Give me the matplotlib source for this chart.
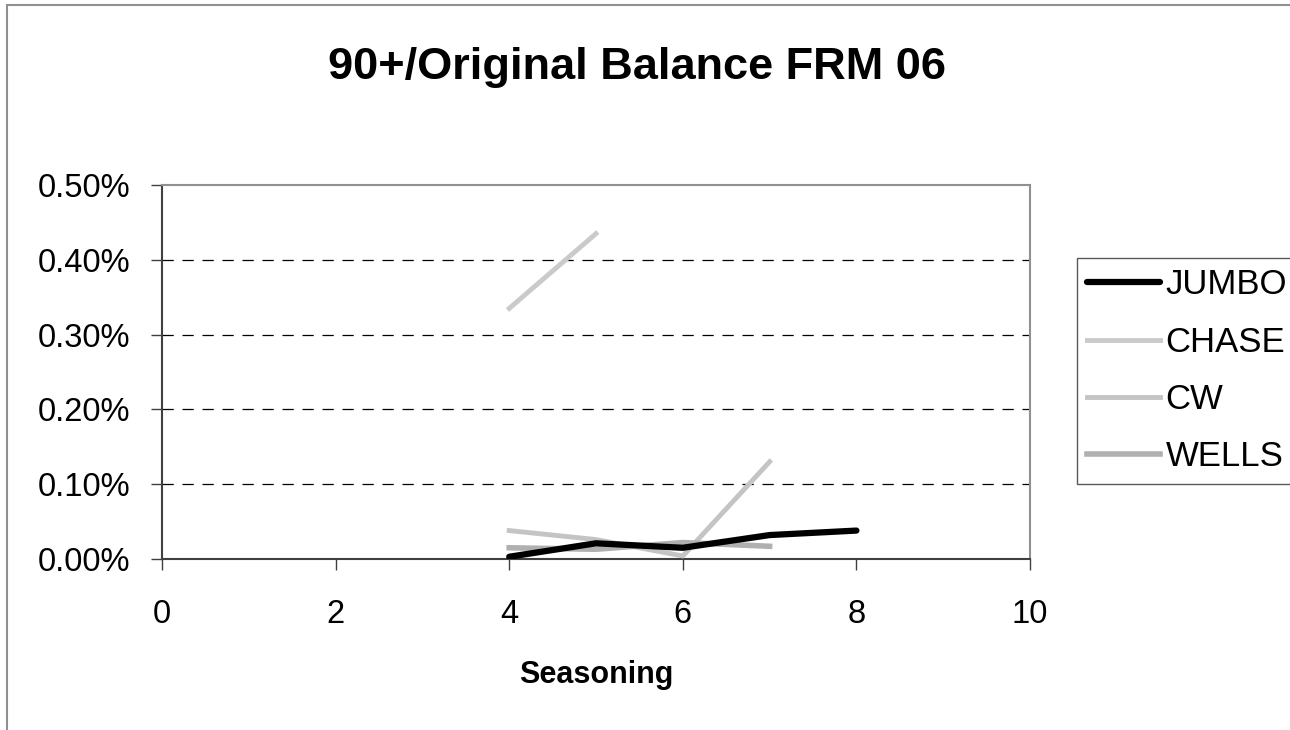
#! /usr/bin/env python3
# 90+ day delinquency over original balance, FRM 06 vintage, by seasoning

import matplotlib
matplotlib.use("Agg")
import matplotlib.pyplot as plt
from matplotlib.patches import Rectangle
from matplotlib.ticker import FuncFormatter, MultipleLocator

plt.rcParams['font.family'] = ['Liberation Sans', 'DejaVu Sans']

# Seasoning (months) and delinquency ratios in percent
jumbo_x = [4, 5, 6, 7, 8]
jumbo_y = [0.003, 0.021, 0.015, 0.032, 0.038]

chase_x = [4, 5]
chase_y = [0.335, 0.435]

cw_x = [4, 5, 6, 7]
cw_y = [0.038, 0.026, 0.004, 0.130]

wells_x = [4, 5, 6, 7]
wells_y = [0.015, 0.013, 0.022, 0.017]

fig = plt.figure(figsize=(12.9, 7.3), dpi=100)

# outer chart frame (only left and top edges fall inside the image)
fig.patches.append(Rectangle((7/1290, -0.1), 1.2, 1.1 - 5/730, transform=fig.transFigure,
                             fill=False, edgecolor='#909090', linewidth=1.5))

ax = fig.add_axes([162/1290, 1 - 559/730, 868/1290, 374/730])

ax.plot(jumbo_x, jumbo_y, color='black', linewidth=4.5, solid_capstyle='round', label='JUMBO', zorder=4)
ax.plot(chase_x, chase_y, color='#cacaca', linewidth=3.5, label='CHASE', zorder=3)
ax.plot(cw_x, cw_y, color='#c4c4c4', linewidth=3.5, label='CW', zorder=3)
ax.plot(wells_x, wells_y, color='#b0b0b0', linewidth=4, label='WELLS', zorder=3)

ax.set_xlim(0, 10)
ax.set_ylim(0, 0.5)
ax.xaxis.set_major_locator(MultipleLocator(2))
ax.yaxis.set_major_locator(MultipleLocator(0.1))
ax.yaxis.set_major_formatter(FuncFormatter(lambda v, p: '%.2f%%' % v))

for v in [0.1, 0.2, 0.3, 0.4]:
    ax.axhline(v, color='black', linewidth=0.9, dashes=(9, 7), zorder=1)

for s in ['top', 'right']:
    ax.spines[s].set_color('#909090')
    ax.spines[s].set_linewidth(1.5)
for s in ['left', 'bottom']:
    ax.spines[s].set_color('#404040')
    ax.spines[s].set_linewidth(1.5)

ax.tick_params(axis='both', direction='out', length=8, width=1, color='#404040',
               labelsize=23.5)
ax.tick_params(axis='x', pad=20.5)
ax.tick_params(axis='y', pad=15)

ax.set_xlabel('Seasoning', fontsize=22, fontweight='bold', labelpad=22)
fig.text(0.494, 1 - 68/730, '90+/Original Balance FRM 06', fontsize=32.5,
         fontweight='bold', ha='center', va='center')

leg = fig.legend(loc='upper left', bbox_to_anchor=(1077/1290, 1 - 258/730),
                 fontsize=25, frameon=True, fancybox=False, handlelength=2.1,
                 handletextpad=0.15, labelspacing=0.7, borderaxespad=0,
                 borderpad=0.3)
leg.get_frame().set_edgecolor('#303030')
leg.get_frame().set_linewidth(1)

fig.savefig('out.png', dpi=100)
